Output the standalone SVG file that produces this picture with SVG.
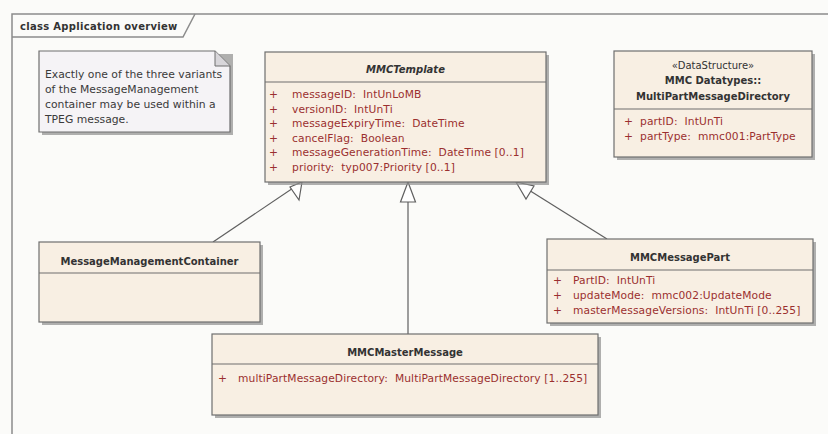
<svg xmlns="http://www.w3.org/2000/svg" width="828" height="434" viewBox="0 0 828 434">
<defs>
<style>
.cls{fill:#f8efe3;stroke:#6e6e6e;stroke-width:1.2}
.sh{fill:#8f8f8f;opacity:0.7}
.sep{stroke:#6e6e6e;stroke-width:1.2}
.t{font-family:"DejaVu Sans",Verdana,sans-serif;font-size:10.5px}
.title{font-family:"DejaVu Sans",Verdana,sans-serif;font-size:10px;font-weight:bold;fill:#333;text-anchor:middle}
.attr{font-family:"DejaVu Sans",Verdana,sans-serif;font-size:10.7px;fill:#9b2f2f;white-space:pre;letter-spacing:0.1px}
.note{font-family:"DejaVu Sans",Verdana,sans-serif;font-size:10.8px;fill:#3a3a3a}
.con{stroke:#5f5f5f;stroke-width:1.2;fill:none}
.head{fill:#ffffff;stroke:#5f5f5f;stroke-width:1.2}
</style>
</defs>
<rect x="0" y="0" width="828" height="434" fill="#fbfbf9"/>
<g id="frame">
<path d="M12,434 V14 H828" fill="none" stroke="#8c8c8c" stroke-width="1.5"/>
<path d="M12,37 H183 L195,14" fill="none" stroke="#8c8c8c" stroke-width="1.5"/>
<text x="20" y="30" class="t" style="font-size:10px;font-weight:bold;fill:#333;letter-spacing:0.3px">class Application overview</text>
</g>
<g id="connectors">
<line x1="213" y1="242" x2="302" y2="182" class="con"/>
<polygon class="head" points="302,182 299,200 290,187"/>
<line x1="408" y1="334" x2="408" y2="182" class="con"/>
<polygon class="head" points="408,182 415.5,202 400.5,202"/>
<line x1="607" y1="239" x2="516" y2="182" class="con"/>
<polygon class="head" points="516,182 534,186 526,199"/>
</g>
<g id="note">
<rect x="42" y="54" width="191" height="81" class="sh"/>
<path d="M39,51 H215 L230,66 V132 H39 Z" fill="#f5f3f6" stroke="#6e6e6e" stroke-width="1.2"/>
<path d="M215,51 V66 H230" fill="#d8d6da" stroke="#6e6e6e" stroke-width="1"/>
<text class="note" x="45" y="78">Exactly one of the three variants</text>
<text class="note" x="45" y="93">of the MessageManagement</text>
<text class="note" x="45" y="108">container may be used within a</text>
<text class="note" x="45" y="123">TPEG message.</text>
</g>
<g id="MMCTemplate">
<rect x="268" y="55" width="281" height="130" class="sh"/>
<rect x="265" y="52" width="281" height="130" class="cls"/>
<line x1="265" y1="82" x2="546" y2="82" class="sep"/>
<text x="405.5" y="73" class="title" style="font-style:italic">MMCTemplate</text>
<text class="attr" x="269" y="98">+</text><text class="attr" x="292" y="98">messageID:  IntUnLoMB</text>
<text class="attr" x="269" y="112.5">+</text><text class="attr" x="292" y="112.5">versionID:  IntUnTi</text>
<text class="attr" x="269" y="127">+</text><text class="attr" x="292" y="127">messageExpiryTime:  DateTime</text>
<text class="attr" x="269" y="141.5">+</text><text class="attr" x="292" y="141.5">cancelFlag:  Boolean</text>
<text class="attr" x="269" y="156">+</text><text class="attr" x="292" y="156">messageGenerationTime:  DateTime [0..1]</text>
<text class="attr" x="269" y="170.5">+</text><text class="attr" x="292" y="170.5">priority:  typ007:Priority [0..1]</text>
</g>
<g id="MultiPartMessageDirectory">
<rect x="617" y="54" width="198" height="106" class="sh"/>
<rect x="614" y="51" width="198" height="106" class="cls"/>
<line x1="614" y1="109" x2="812" y2="109" class="sep"/>
<text x="713" y="69" class="title" style="font-weight:normal">«DataStructure»</text>
<text x="713" y="84" class="title">MMC Datatypes::</text>
<text x="713" y="100" class="title">MultiPartMessageDirectory</text>
<text class="attr" x="624" y="125">+</text><text class="attr" x="640" y="125">partID:  IntUnTi</text>
<text class="attr" x="624" y="140">+</text><text class="attr" x="640" y="140">partType:  mmc001:PartType</text>
</g>
<g id="MessageManagementContainer">
<rect x="42" y="245" width="221" height="80" class="sh"/>
<rect x="39" y="242" width="221" height="80" class="cls"/>
<line x1="39" y1="273" x2="260" y2="273" class="sep"/>
<text x="149.5" y="265" class="title">MessageManagementContainer</text>
</g>
<g id="MMCMessagePart">
<rect x="550" y="242" width="266" height="84" class="sh"/>
<rect x="547" y="239" width="266" height="84" class="cls"/>
<line x1="547" y1="270" x2="813" y2="270" class="sep"/>
<text x="680" y="261" class="title">MMCMessagePart</text>
<text class="attr" x="553" y="284">+</text><text class="attr" x="573" y="284">PartID:  IntUnTi</text>
<text class="attr" x="553" y="299">+</text><text class="attr" x="573" y="299">updateMode:  mmc002:UpdateMode</text>
<text class="attr" x="553" y="314">+</text><text class="attr" x="573" y="314">masterMessageVersions:  IntUnTi [0..255]</text>
</g>
<g id="MMCMasterMessage">
<rect x="215" y="337" width="386" height="81" class="sh"/>
<rect x="212" y="334" width="386" height="81" class="cls"/>
<line x1="212" y1="364" x2="598" y2="364" class="sep"/>
<text x="405" y="356" class="title">MMCMasterMessage</text>
<text class="attr" x="218" y="382">+</text><text class="attr" x="238" y="382">multiPartMessageDirectory:  MultiPartMessageDirectory [1..255]</text>
</g>
</svg>
